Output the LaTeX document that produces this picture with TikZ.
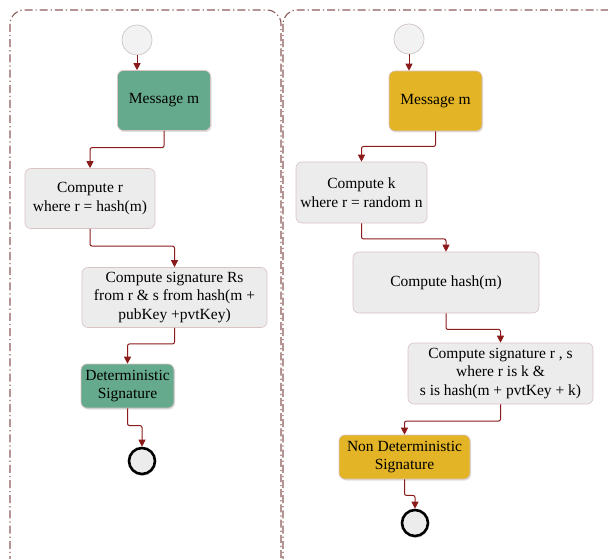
\documentclass[tikz,border=0pt]{standalone}
\usepackage{fontspec}
\setmainfont{Liberation Serif}
\usetikzlibrary{arrows.meta,shadows,calc}
\definecolor{lanecol}{HTML}{8E5A5A}
\definecolor{arrcol}{HTML}{8B1A1A}
\definecolor{greenbox}{HTML}{66AA8E}
\definecolor{yellowbox}{HTML}{E2B426}
\definecolor{graybox}{HTML}{ECECEC}
\definecolor{grayline}{HTML}{D9C3C3}
\begin{document}
\begin{tikzpicture}[x=1pt,y=-1pt,
  lane/.style={draw=lanecol,line width=1.1pt,rounded corners=14pt,dash pattern=on 8pt off 3pt on 1.2pt off 3pt},
  box/.style={draw=grayline,line width=0.6pt,rounded corners=6pt,align=center,font=\fontsize{15.5}{18.5}\selectfont,inner sep=2pt},
  graynode/.style={box,fill=graybox},
  greennode/.style={box,fill=greenbox,drop shadow={opacity=0.25,shadow xshift=1pt,shadow yshift=-1.5pt}},
  yellownode/.style={box,fill=yellowbox,drop shadow={opacity=0.25,shadow xshift=1pt,shadow yshift=-1.5pt}},
  startnode/.style={circle,draw=grayline!80!black!60,fill=graybox!70!white,line width=0.7pt,minimum size=30pt,inner sep=0pt},
  endnode/.style={circle,draw=black,fill=graybox,line width=2.6pt,minimum size=26pt,inner sep=0pt,drop shadow={opacity=0.3,shadow xshift=0.5pt,shadow yshift=-2pt}},
  arr/.style={draw=arrcol,line width=1pt,rounded corners=2pt,-{Triangle[width=7pt,length=7pt]}}
]
\useasboundingbox (0,0) rectangle (608,559);
\begin{scope}
\clip (0,0) rectangle (608,559);
\draw[lane] (10,10) rectangle (281,572);
\draw[lane] (283,10) rectangle (622,572);
\end{scope}

% left flow
\node[startnode] (s1) at (137,40) {};
\node[greennode,minimum width=93pt,minimum height=60pt] (m1) at (164,100.5) {Message m};
\node[graynode,minimum width=130pt,minimum height=60pt] (c1) at (90,198.5) {Compute r\\where r = hash(m)};
\node[graynode,minimum width=185pt,minimum height=60pt] (c2) at (174.5,297.5) {Compute signature Rs\\from r \& s from hash(m +\\pubKey +pvtKey)};
\node[greennode,minimum width=93pt,minimum height=44pt] (d1) at (127.5,386) {Deterministic\\Signature};
\node[endnode] (e1) at (142,461) {};

% right flow
\node[startnode] (s2) at (409,39) {};
\node[yellownode,minimum width=93pt,minimum height=60pt] (m2) at (435.5,101) {Message m};
\node[graynode,minimum width=131pt,minimum height=61pt] (k2) at (361.5,192.5) {Compute k\\where r = random n};
\node[graynode,minimum width=186pt,minimum height=61pt] (h2) at (446,282.5) {Compute hash(m)};
\node[graynode,minimum width=185pt,minimum height=61pt] (g2) at (500.5,373.5) {Compute signature r , s\\where r is k \&\\s is hash(m + pvtKey + k)};
\node[yellownode,minimum width=131pt,minimum height=44pt] (n2) at (404.5,457) {Non Deterministic\\Signature};
\node[endnode] (e2) at (415,523) {};

% connectors
\draw[arr] (s1.south) -- (s1.south |- m1.north);
\draw[arr] (m1.south) -- ($(m1.south)!0.45!(m1.south |- c1.north)$) -| (c1.north);
\draw[arr] (c1.south) -- ($(c1.south)!0.45!(c1.south |- c2.north)$) -| (c2.north);
\draw[arr] (c2.south) -- ($(c2.south)!0.45!(c2.south |- d1.north)$) -| (d1.north);
\draw[arr] (d1.south) -- ($(d1.south)!0.45!(d1.south |- e1.north)$) -| (e1.north);

\draw[arr] (s2.south) -- (s2.south |- m2.north);
\draw[arr] (m2.south) -- ($(m2.south)!0.5!(m2.south |- k2.north)$) -| (k2.north);
\draw[arr] (k2.south) -- ($(k2.south)!0.55!(k2.south |- h2.north)$) -| (h2.north);
\draw[arr] (h2.south) -- ($(h2.south)!0.55!(h2.south |- g2.north)$) -| (g2.north);
\draw[arr] (g2.south) -- ($(g2.south)!0.55!(g2.south |- n2.north)$) -| (n2.north);
\draw[arr] (n2.south) -- ($(n2.south)!0.55!(n2.south |- e2.north)$) -| (e2.north);
\end{tikzpicture}
\end{document}
